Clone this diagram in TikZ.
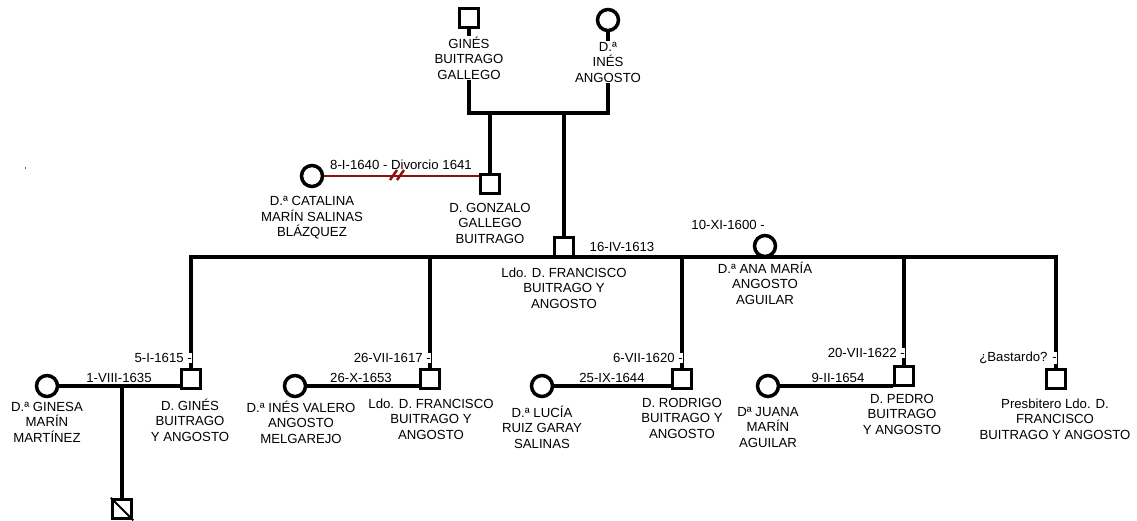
\documentclass[tikz,border=0pt]{standalone}
\usepackage{fontspec}
\setmainfont{Liberation Sans}
\definecolor{divred}{RGB}{140,16,16}
\definecolor{dotgray}{RGB}{90,90,90}
\tikzset{
  male/.style={draw, rectangle, line width=3.5pt, minimum size=19pt, inner sep=0pt, fill=white},
  female/.style={draw, circle, line width=3.5pt, minimum size=21pt, inner sep=0pt, fill=white},
  pname/.style={align=center, font=\fontsize{13.2}{15.5}\selectfont, inner sep=1pt},
  pnamew/.style={pname, fill=white},
  dlabel/.style={font=\fontsize{13.2}{15.5}\selectfont, inner sep=0pt},
  dlabelw/.style={dlabel, fill=white, anchor=east},
  link/.style={line width=3.5pt},
  divlink/.style={line width=2.5pt, draw=divred},
}
\begin{document}
\begin{tikzpicture}[x=1pt, y=-1pt]
\useasboundingbox (0,0) rectangle (1137,521);
% stray dot
\fill[dotgray] (24.5,167.5) rectangle (26,169);
% helper coordinates
\coordinate (tline) at (0,113);
\coordinate (mline) at (0,257);
% symbols
\node[male] (gines) at (469,18) {};
\node[female] (ines) at (608,20) {};
\node[male] (gonzalo) at (490,184) {};
\node[female] (catalina) at (312,176) {};
\node[male] (fran) at (564,247) {};
\node[female] (ana) at (765,246) {};
\node[male] (ginesjr) at (191,379) {};
\node[female] (ginesa) at (47,386) {};
\node[male] (child) at (122,509) {};
\node[male] (franjr) at (430,379) {};
\node[female] (inesv) at (295,386) {};
\node[male] (rodrigo) at (682,379) {};
\node[female] (lucia) at (542,386) {};
\node[male] (pedro) at (904,376) {};
\node[female] (juana) at (768,386) {};
\node[male] (presb) at (1056,379) {};
\draw[line width=2pt] (child.north west) -- (child.south east);
% connectors
\draw[link] (gines.south) -- (gines.south |- tline) -- (ines.south |- tline) -- (ines.south);
\draw[link] (gonzalo.north |- tline) -- (gonzalo.north);
\draw[link] (fran.north |- tline) -- (fran.north);
\draw[divlink] (catalina.east) -- (catalina.east -| gonzalo.west);
\draw[divlink] (390,180) -- (397,170) (397,180) -- (404,170);
\draw[link] (ginesjr.north) -- (ginesjr.north |- mline) -- (presb.north |- mline) -- (presb.north);
\draw[link] (franjr.north |- mline) -- (franjr.north);
\draw[link] (rodrigo.north |- mline) -- (rodrigo.north);
\draw[link] (pedro.north |- mline) -- (pedro.north);
\draw[link] (ginesa.east) -- (ginesa.east -| ginesjr.west);
\draw[link] (child.north |- ginesa) -- (child.north);
\draw[link] (inesv.east) -- (inesv.east -| franjr.west);
\draw[link] (lucia.east) -- (lucia.east -| rodrigo.west);
\draw[link] (juana.east) -- (juana.east -| pedro.west);
% names
\node[pnamew] (l-gines) at (469,58) {GINÉS\\BUITRAGO\\GALLEGO};
\node[pnamew] (l-ines) at (608,62) {D.ª\\INÉS\\ANGOSTO};
\node[pname] (l-catalina) at (312,218) {D.ª CATALINA\\MARÍN SALINAS\\BLÁZQUEZ};
\node[pname] (l-gonzalo) at (490,223) {D. GONZALO\\GALLEGO\\BUITRAGO};
\node[pname] (l-fran) at (564,288) {Ldo. D. FRANCISCO\\BUITRAGO Y\\ANGOSTO};
\node[pname] (l-ana) at (765,283) {D.ª ANA MARÍA\\ANGOSTO\\AGUILAR};
\node[pname] (l-ginesa) at (47,422) {D.ª GINESA\\MARÍN\\MARTÍNEZ};
\node[pname] (l-ginesjr) at (190,420) {D. GINÉS\\BUITRAGO\\Y ANGOSTO};
\node[pname] (l-inesv) at (301,422) {D.ª INÉS VALERO\\ANGOSTO\\MELGAREJO};
\node[pname] (l-franjr) at (431,419) {Ldo. D. FRANCISCO\\BUITRAGO Y\\ANGOSTO};
\node[pname] (l-lucia) at (542,427) {D.ª LUCÍA\\RUIZ GARAY\\SALINAS};
\node[pname] (l-rodrigo) at (682,418) {D. RODRIGO\\BUITRAGO Y\\ANGOSTO};
\node[pname] (l-juana) at (768,427) {Dª JUANA\\MARÍN\\AGUILAR};
\node[pname] (l-pedro) at (902,414) {D. PEDRO\\BUITRAGO\\Y ANGOSTO};
\node[pname] (l-presb) at (1055,419) {Presbitero Ldo. D.\\FRANCISCO\\BUITRAGO Y ANGOSTO};
% dates
\node[dlabel] (d-div) at (401,165) {8-I-1640 - Divorcio 1641};
\node[dlabel] (d-fran) at (622,247) {16-IV-1613};
\node[dlabel, anchor=east] (d-ana) at (765,225) {10-XI-1600 -};
\node[dlabelw] (d-ginesjr) at (192,358) {5-I-1615 -};
\node[dlabelw] (d-franjr) at (431,358) {26-VII-1617 -};
\node[dlabelw] (d-rodrigo) at (683,358) {6-VII-1620 -};
\node[dlabelw] (d-pedro) at (905,353) {20-VII-1622 -};
\node[dlabelw] (d-presb) at (1057,358) {¿Bastardo? -};
\node[dlabel] (d-ginesa) at (119,378) {1-VIII-1635};
\node[dlabel] (d-inesv) at (361,378) {26-X-1653};
\node[dlabel] (d-lucia) at (612,378) {25-IX-1644};
\node[dlabel] (d-juana) at (838,378) {9-II-1654};
\end{tikzpicture}
\end{document}
